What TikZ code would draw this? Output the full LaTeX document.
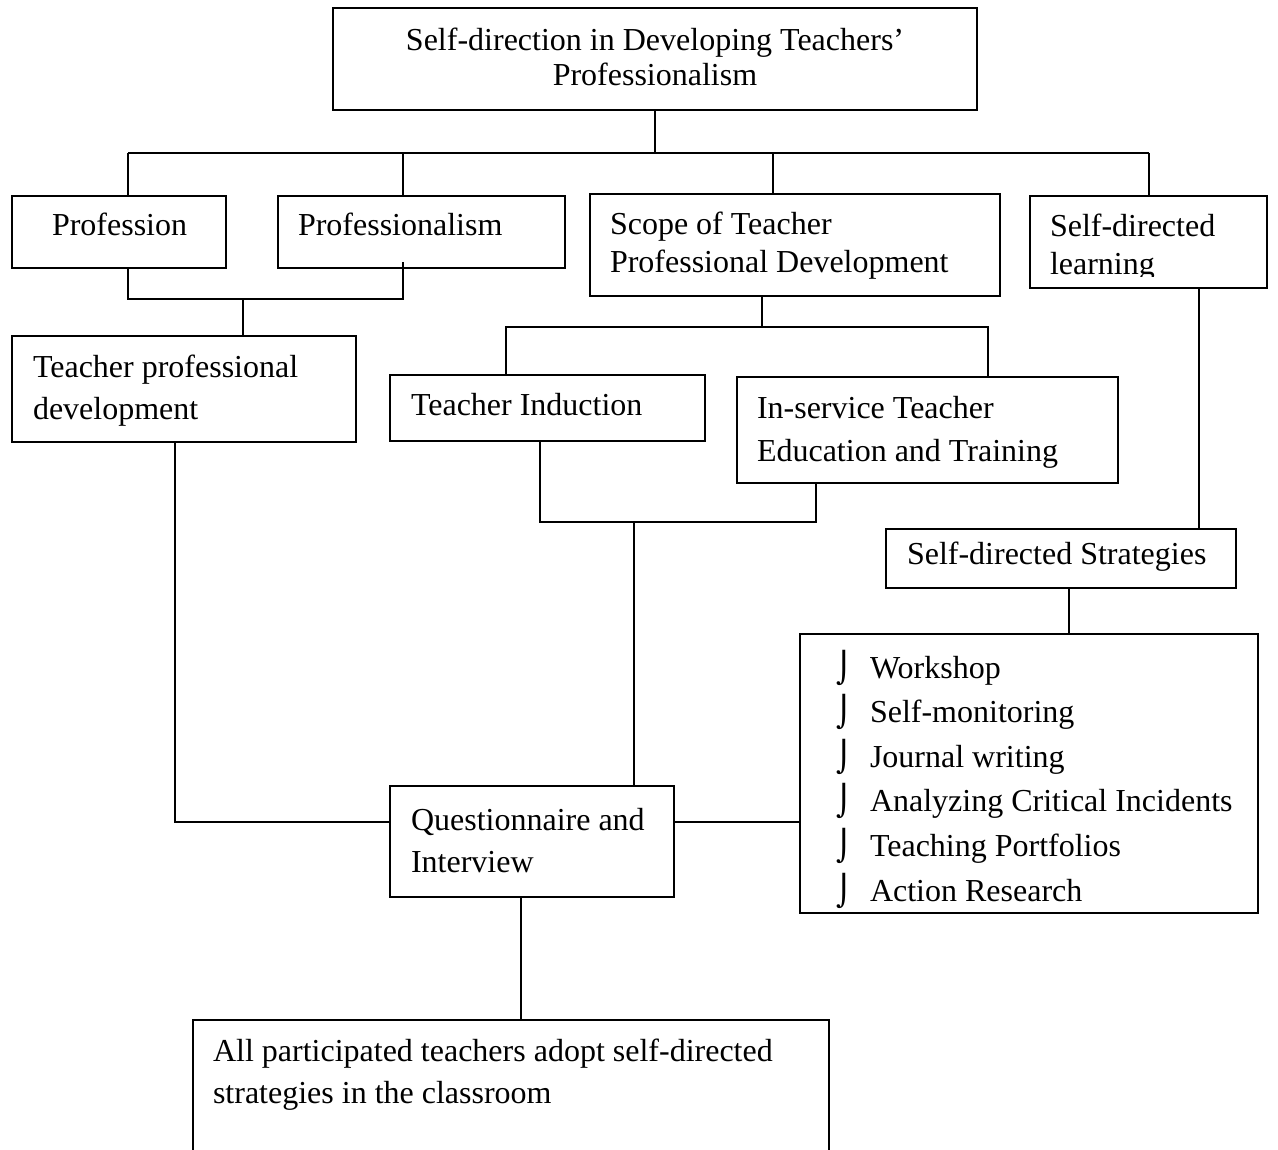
\documentclass[tikz,border=0pt]{standalone}
\usepackage{fontspec}
\setmainfont{Liberation Serif}
\newfontfamily\bulletfont{DejaVu Sans}
\tikzset{
  boxnode/.style={draw, line width=1.8pt, inner sep=0pt, outer sep=0pt},
  txt/.style={inner sep=0pt, outer sep=0pt, anchor=base west, font=\fontsize{32}{40}\selectfont},
  ctxt/.style={inner sep=0pt, outer sep=0pt, anchor=base, font=\fontsize{32}{40}\selectfont},
  bul/.style={inner sep=0pt, outer sep=0pt, anchor=base west, font=\bulletfont\fontsize{30}{36}\selectfont},
  conn/.style={line width=1.8pt},
}
\newcommand\mybox[5]{\node[boxnode, minimum width={(#4-#2)*1pt}, minimum height={(#5-#3)*1pt}] (#1) at ({(#2+#4)/2},{(#3+#5)/2}) {};}
\begin{document}
\begin{tikzpicture}[x=1pt,y=-1pt]
\clip (0,0) rectangle (1278,1150);
\fill[white] (0,0) rectangle (1278,1150);
% boxes
\mybox{top}{333}{8}{977}{110}
\mybox{prof}{12}{196}{226}{268}
\mybox{pfm}{278}{196}{565}{268}
\mybox{scope}{590}{194}{1000}{296}
\mybox{sdl}{1030}{196}{1267}{288}
\mybox{tpd}{12}{336}{356}{442}
\mybox{ind}{390}{375}{705}{441}
\mybox{isv}{737}{377}{1118}{483}
\mybox{sds}{886}{529}{1236}{588}
\mybox{list}{800}{634}{1258}{913}
\mybox{qi}{390}{786}{674}{897}
\mybox{final}{193}{1020}{829}{1180}
% texts
\node[ctxt] (t1) at (655,51) {Self-direction in Developing Teachers’};
\node[ctxt] (t2) at (655,86) {Professionalism};
\node[txt] (t3) at (52,236) {Profession};
\node[txt] (t4) at (298,236) {Professionalism};
\node[txt] (t5) at (610,235) {Scope of Teacher};
\node[txt] (t6) at (610,273) {Professional Development};
\node[txt] (t7) at (1050,237) {Self-directed};
\begin{scope}
\clip (1030,250) rectangle (1267,277);
\node[txt] (t8) at (1050,275) {learning};
\end{scope}
\node[txt] (t9) at (33,378) {Teacher professional};
\node[txt] (t10) at (33,420) {development};
\node[txt] (t11) at (411,416) {Teacher Induction};
\node[txt] (t12) at (757,418) {In-service Teacher};
\node[txt] (t13) at (757,461) {Education and Training};
\node[txt] (t14) at (907,564) {Self-directed Strategies};
\foreach \yy/\lab [count=\i] in {678/Workshop, 722/Self-monitoring, 767/Journal writing, 811/Analyzing Critical Incidents, 856/Teaching Portfolios, 901/Action Research}{
  \node[bul] (b\i) at (836,\yy) {⌡};
  \node[txt] (l\i) at (870,\yy) {\lab};
}
\node[txt] (t15) at (411,830) {Questionnaire and};
\node[txt] (t16) at (411,872) {Interview};
\node[txt] (t17) at (213,1061) {All participated teachers adopt self-directed};
\node[txt] (t18) at (213,1103) {strategies in the classroom};
% junction coordinates
\coordinate (aL) at (128,153);
\coordinate (aR) at (1149,153);
\coordinate (a2) at (403,153);
\coordinate (a3) at (773,153);
\coordinate (bL) at (128,299);
\coordinate (bR) at (403,299);
\coordinate (bRt) at (403,262);
\coordinate (bM) at (243,299);
\coordinate (cL) at (506,327);
\coordinate (cR) at (988,327);
\coordinate (cM) at (762,327);
\coordinate (dL) at (540,522);
\coordinate (dR) at (816,522);
\coordinate (dM) at (634,522);
\coordinate (ex) at (1199,400);
\coordinate (fx) at (1069,600);
\coordinate (gx) at (175,822);
\coordinate (hx) at (521,950);
% connectors
\draw[conn] (top.south) -- (top.south |- aL);
\draw[conn] (aL) -- (aR);
\draw[conn] (aL) -- (aL |- prof.north);
\draw[conn] (a2) -- (a2 |- pfm.north);
\draw[conn] (a3) -- (a3 |- scope.north);
\draw[conn] (aR) -- (aR |- sdl.north);
\draw[conn] (bL |- prof.south) -- (bL) -- (bR) -- (bRt);
\draw[conn] (bM) -- (bM |- tpd.north);
\draw[conn] (scope.south -| cM) -- (cM);
\draw[conn] (cL |- ind.north) -- (cL) -- (cR) -- (cR |- isv.north);
\draw[conn] (dL |- ind.south) -- (dL) -- (dR) -- (dR |- isv.south);
\draw[conn] (dM) -- (dM |- qi.north);
\draw[conn] (sdl.south -| ex) -- (ex |- sds.north);
\draw[conn] (sds.south -| fx) -- (fx |- list.north);
\draw[conn] (tpd.south -| gx) -- (gx) -- (gx -| qi.west);
\draw[conn] (qi.east |- gx) -- (list.west |- gx);
\draw[conn] (qi.south -| hx) -- (hx |- final.north);
\end{tikzpicture}
\end{document}
